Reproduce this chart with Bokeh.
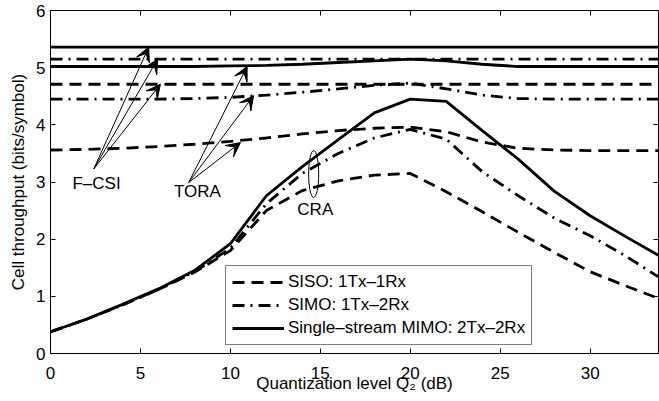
from bokeh.plotting import figure
from bokeh.models import (LinearAxis, FixedTicker, Range1d, Legend, LegendItem,
                          Arrow, VeeHead)
from bokeh.core.properties import value
from bokeh.embed import file_html
from bokeh.resources import INLINE

# ---------------- data ----------------
q_db = [0, 2, 4, 6, 8, 10, 12, 14, 16, 18, 20, 22, 24, 26, 28, 30, 32, 34]

siso_cra = [0.38, 0.60, 0.85, 1.12, 1.42, 1.80, 2.50, 2.85, 3.02, 3.12, 3.15, 2.83, 2.48, 2.12, 1.77, 1.43, 1.18, 0.94]
simo_cra = [0.38, 0.60, 0.85, 1.12, 1.43, 1.84, 2.62, 3.15, 3.50, 3.77, 3.92, 3.75, 3.18, 2.76, 2.37, 2.06, 1.70, 1.30]
mimo_cra = [0.38, 0.60, 0.86, 1.13, 1.45, 1.92, 2.76, 3.27, 3.74, 4.21, 4.45, 4.41, 3.90, 3.40, 2.84, 2.41, 2.04, 1.68]

siso_tora = [3.56, 3.57, 3.59, 3.62, 3.66, 3.71, 3.77, 3.84, 3.90, 3.94, 3.96, 3.88, 3.70, 3.59, 3.56, 3.55, 3.55, 3.55]
simo_tora = [4.45, 4.45, 4.45, 4.45, 4.46, 4.48, 4.52, 4.57, 4.63, 4.69, 4.73, 4.63, 4.52, 4.46, 4.45, 4.45, 4.45, 4.45]
mimo_tora = [5.02, 5.02, 5.02, 5.02, 5.02, 5.03, 5.04, 5.06, 5.09, 5.12, 5.15, 5.12, 5.06, 5.02, 5.02, 5.02, 5.02, 5.02]

siso_fcsi = [4.71] * len(q_db)
simo_fcsi = [5.15] * len(q_db)
mimo_fcsi = [5.36] * len(q_db)

x_ticks = [0, 5, 10, 15, 20, 25, 30]
y_ticks = [0, 1, 2, 3, 4, 5, 6]

legend_labels = ["SISO: 1Tx\u20131Rx", "SIMO: 1Tx\u20132Rx", "Single\u2013stream MIMO: 2Tx\u20132Rx"]

# annotation labels and pointers (data coordinates)
note_text = ["F\u2013CSI", "TORA", "CRA"]
note_x = [2.56, 8.17, 14.72]
note_y = [2.97, 2.83, 2.52]

fcsi_tail = (2.41, 3.23)
fcsi_heads_x = [5.46, 5.96, 6.11]
fcsi_heads_y = [5.36, 5.15, 4.71]
tora_tail = (7.68, 2.99)
tora_heads_x = [10.93, 11.29, 10.56]
tora_heads_y = [5.02, 4.51, 3.69]
cra_ellipse = dict(x=14.63, y=3.14, w=0.56, h=0.82)

FONT = "Liberation Sans"
FS = "17px"

p = figure(width=659, height=401, output_backend="svg", toolbar_location=None,
           x_range=Range1d(0, 33.8), y_range=Range1d(0, 6),
           min_border_left=50, min_border_right=1, min_border_top=10, min_border_bottom=48)
p.background_fill_color = "white"
p.border_fill_color = "white"
p.outline_line_color = "black"
p.outline_line_width = 1
p.xgrid.visible = False
p.ygrid.visible = False

DASH = "12 7"
DASHDOT = "12 6 2 6"
LW = 2.8

legend_renderers = []
for ys, dash in [(siso_fcsi, DASH), (simo_fcsi, DASHDOT), (mimo_fcsi, "solid"),
                 (siso_tora, DASH), (simo_tora, DASHDOT), (mimo_tora, "solid")]:
    p.line(q_db, ys, line_color="black", line_width=LW, line_dash=dash)
for ys, dash in [(siso_cra, DASH), (simo_cra, DASHDOT), (mimo_cra, "solid")]:
    r = p.line(q_db, ys, line_color="black", line_width=LW, line_dash=dash)
    legend_renderers.append(r)

# arrows
for tail, hxs, hys in [(fcsi_tail, fcsi_heads_x, fcsi_heads_y), (tora_tail, tora_heads_x, tora_heads_y)]:
    for hx, hy in zip(hxs, hys):
        p.add_layout(Arrow(end=VeeHead(size=14, fill_color="black", line_color="black", line_width=1),
                           x_start=tail[0], y_start=tail[1], x_end=hx, y_end=hy,
                           line_color="black", line_width=1))

p.ellipse(x=[cra_ellipse["x"]], y=[cra_ellipse["y"]], width=[cra_ellipse["w"]],
          height=[cra_ellipse["h"]], fill_color=None, line_color="black", line_width=1)

p.text(x=note_x, y=note_y, text=note_text, text_font=value(FONT), text_font_size=FS,
       text_align="center", text_baseline="middle", text_color="black")

# axes
for ax in (p.xaxis[0], p.yaxis[0]):
    ax.major_label_text_font = FONT
    ax.major_label_text_font_size = FS
    ax.major_label_text_color = "black"
    ax.axis_label_text_font = FONT
    ax.axis_label_text_font_size = FS
    ax.axis_label_text_font_style = "normal"
    ax.axis_label_text_color = "black"
    ax.major_tick_in = 5
    ax.major_tick_out = 0
    ax.minor_tick_line_color = None
    ax.axis_line_color = "black"
    ax.major_tick_line_color = "black"

p.xaxis[0].ticker = FixedTicker(ticks=x_ticks)
p.yaxis[0].ticker = FixedTicker(ticks=y_ticks)
p.xaxis[0].axis_label = "Quantization level Q\u2082 (dB)"
p.yaxis[0].axis_label = "Cell throughput (bits/symbol)"
p.xaxis[0].major_label_standoff = 13
p.yaxis[0].major_label_standoff = 5
p.xaxis[0].axis_label_standoff = -8
p.yaxis[0].axis_label_standoff = 5

top = LinearAxis(ticker=FixedTicker(ticks=x_ticks), major_label_text_font_size="1px",
                 major_label_text_color=None, major_label_standoff=0,
                 major_tick_in=5, major_tick_out=0,
                 minor_tick_line_color=None, axis_line_color="black")
right = LinearAxis(ticker=FixedTicker(ticks=y_ticks), major_label_text_font_size="1px",
                   major_label_text_color=None, major_label_standoff=0,
                   major_tick_in=5, major_tick_out=0,
                   minor_tick_line_color=None, axis_line_color="black")
p.add_layout(top, "above")
p.add_layout(right, "right")

legend = Legend(items=[LegendItem(label=lab, renderers=[r]) for lab, r in zip(legend_labels, legend_renderers)],
                location=(175, 8), glyph_width=52, glyph_height=20, label_height=20,
                label_standoff=4, spacing=3, padding=6, margin=0,
                label_text_font=FONT, label_text_font_size=FS, label_text_color="black",
                border_line_color="black", border_line_width=1,
                background_fill_color="white", background_fill_alpha=1)
p.add_layout(legend, "center")

open("out.html", "w").write(file_html(p, INLINE))
